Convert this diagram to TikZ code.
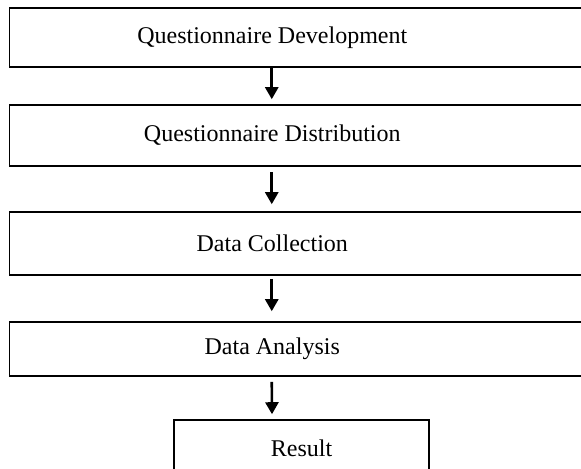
\documentclass[tikz,border=0pt]{standalone}
\usepackage{fontspec}
\setmainfont{Liberation Serif}
\usetikzlibrary{arrows.meta, positioning}
\tikzstyle{stepbox} = [
    rectangle,
    draw=black,
    line width=0.8pt,
    minimum width=291.75pt,
    inner sep=0pt
]
\tikzstyle{textpos} = [
    xshift=-14.5pt,
    inner sep=0pt
]
\tikzstyle{arrow} = [
    line width=1.3pt,
    -{Triangle[length=6pt, width=6.5pt]}
]

\begin{document}
\begin{tikzpicture}[x=0.5pt, y=-0.5pt, font=\fontsize{12}{14}\selectfont]
        \useasboundingbox (0,0) rectangle (581,468);
        \clip (0,0) rectangle (581,468);
        % Nodes
        \node[stepbox, minimum height=29.5pt, label={[textpos]center:Questionnaire Development}] (dev) at (301.25,37.5) {};
        \node[stepbox, minimum height=30.5pt, label={[textpos]center:Questionnaire Distribution}] (dist) at (301.25,135.5) {};
        \node[stepbox, minimum height=31.5pt, label={[textpos]center:Data Collection}] (coll) at (301.25,243.5) {};
        \node[stepbox, minimum height=27pt, label={[textpos]center:Data Analysis}] (anal) at (301.25,349) {};
        \node[stepbox, minimum width=127.5pt, minimum height=28pt] (res) at (301.5,448) {Result};

        % Flow arrows
        \draw[arrow] ([xshift=-14.75pt]dev.south) -- ([xshift=-14.75pt, yshift=2.5pt]dist.north);
        \draw[arrow] ([xshift=-14.75pt, yshift=-2.8pt]dist.south) -- ([xshift=-14.75pt, yshift=3.5pt]coll.north);
        \draw[arrow] ([xshift=-14.75pt, yshift=-1.5pt]coll.south) -- ([xshift=-14.75pt, yshift=5pt]anal.north);
        \draw[arrow] ([xshift=-14.75pt, yshift=-2.5pt]anal.south) -- ([xshift=-14.75pt, yshift=2.5pt]res.north);
    \end{tikzpicture}
\end{document}
